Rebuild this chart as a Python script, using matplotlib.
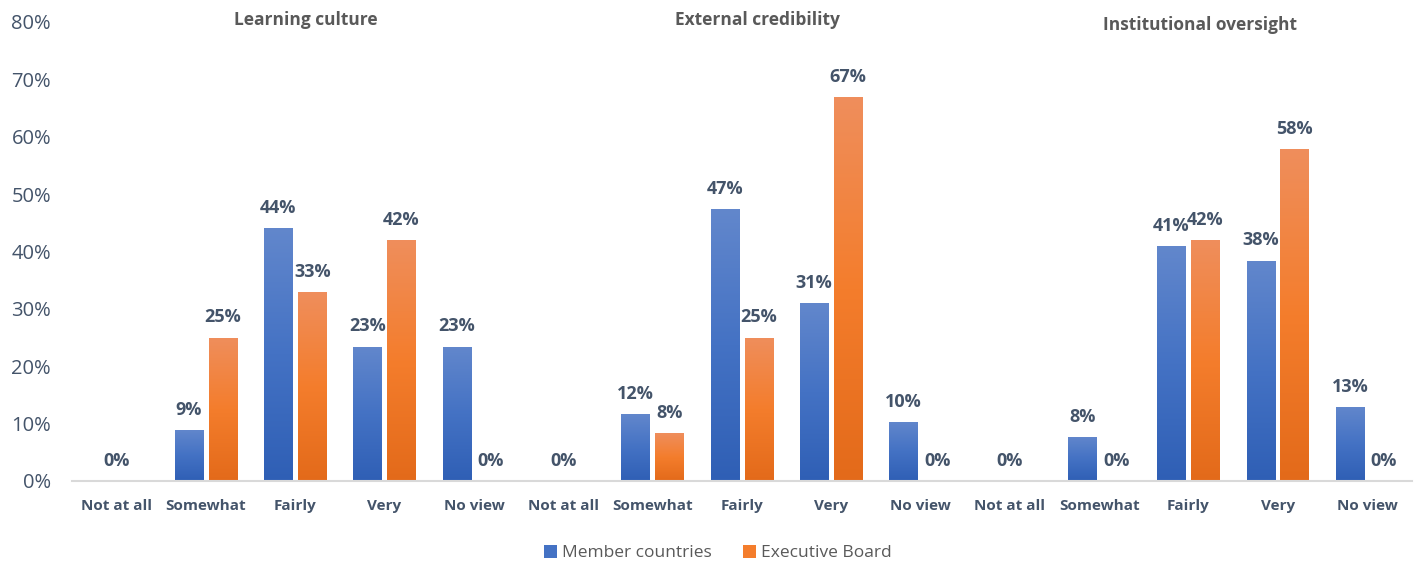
#!/usr/bin/env python3
"""
Survey chart: perceived contribution by group (Learning culture,
External credibility, Institutional oversight), Member countries vs
Executive Board. Grouped bars with a vertical gradient fill.
"""

import numpy as np
import matplotlib
matplotlib.use("Agg")
import matplotlib.pyplot as plt
from matplotlib.colors import LinearSegmentedColormap
from matplotlib.patches import Patch

# --- data -------------------------------------------------------------
answers = ["Not at all", "Somewhat", "Fairly", "Very", "No view"]
groups = ["Learning culture", "External credibility", "Institutional oversight"]
categories = answers * len(groups)

# values in percent, NaN = no bar / no label
member_countries = [0, 8.9, 44.1, 23.4, 23.4,
                    0, 11.6, 47.4, 31.0, 10.3,
                    0, 7.7, 40.9, 38.4, 12.9]
executive_board = [np.nan, 25.0, 32.9, 42.0, 0,
                   np.nan, 8.3, 25.0, 66.9, 0,
                   np.nan, 0, 42.0, 57.8, 0]

series_names = ["Member countries", "Executive Board"]

# --- style ------------------------------------------------------------
FONT = "Open Sans"
TEXT_DARK = "#44546A"
TEXT_GREY = "#595959"
blue_cmap = LinearSegmentedColormap.from_list(
    "blue_grad", ["#2F5FB5", "#4472C4", "#6287CC"])
orange_cmap = LinearSegmentedColormap.from_list(
    "orange_grad", ["#E36A1A", "#F47D2C", "#EF8E5C"])


def gradient_fill(ax, bars, cmap):
    """Paint each bar with a vertical gradient clipped to the bar."""
    grad = np.linspace(0, 1, 256).reshape(-1, 1)
    for bar in bars:
        x, y = bar.get_xy()
        w, h = bar.get_width(), bar.get_height()
        if not np.isfinite(h) or h <= 0:
            continue
        im = ax.imshow(grad, extent=[x, x + w, y, y + h], origin="lower",
                       cmap=cmap, aspect="auto", zorder=bar.get_zorder() + 0.1)
        im.set_clip_path(bar)


def plot_chart():
    fig = plt.figure(figsize=(14.16, 5.64), dpi=100)
    ax = fig.add_axes([0.0508, 0.1472, 0.9462, 0.8138])

    x = np.arange(len(categories))
    width = 0.32
    offset = 0.19

    member = np.array(member_countries, dtype=float)
    board = np.array(executive_board, dtype=float)

    bars_m = ax.bar(x - offset, member, width, color="#4472C4", zorder=2)
    bars_b = ax.bar(x + offset, board, width, color="#F47D2C", zorder=2)
    gradient_fill(ax, bars_m, blue_cmap)
    gradient_fill(ax, bars_b, orange_cmap)

    # data labels
    label_kw = dict(textcoords="offset points", ha="center", va="baseline",
                    fontsize=13, fontweight="bold", color=TEXT_DARK,
                    family=FONT)
    for i in range(len(categories)):
        if np.isnan(board[i]):
            # only one value -> label centred on the category
            ax.annotate(f"{member[i]:.0f}%", (x[i], member[i]),
                        xytext=(0, 11), **label_kw)
            continue
        ax.annotate(f"{member[i]:.0f}%", (x[i] - offset, member[i]),
                    xytext=(0, 11), **label_kw)
        ax.annotate(f"{board[i]:.0f}%", (x[i] + offset, board[i]),
                    xytext=(0, 11), **label_kw)

    # group titles (placed like free text boxes above the groups)
    title_pos = [(2.12, 79.5), (7.17, 79.5), (12.13, 78.6)]
    for name, (tx, ty) in zip(groups, title_pos):
        ax.text(tx, ty, name, ha="center", va="baseline", fontsize=12.5,
                fontweight="bold", color=TEXT_GREY, family=FONT, clip_on=False)

    # axes
    ax.set_xlim(-0.5, len(categories) - 0.5)
    ax.set_ylim(0, 80)
    ax.set_yticks(np.arange(0, 81, 10))
    ax.set_yticklabels([f"{v}%" for v in range(0, 81, 10)],
                       fontsize=14.5, color=TEXT_DARK, family=FONT)
    ax.set_xticks(x)
    ax.set_xticklabels(categories, fontsize=11, fontweight="bold",
                       color=TEXT_DARK, family=FONT)
    ax.tick_params(axis="both", length=0)
    ax.tick_params(axis="y", pad=15)
    ax.tick_params(axis="x", pad=13)
    for side in ["left", "right", "top"]:
        ax.spines[side].set_visible(False)
    ax.spines["bottom"].set_color("#D9D9D9")
    ax.spines["bottom"].set_linewidth(1.5)

    # legend
    handles = [Patch(facecolor="#4472C4"), Patch(facecolor="#F47D2C")]
    leg = fig.legend(handles, series_names, loc="center",
                     bbox_to_anchor=(0.507, 0.019), ncol=2, frameon=False,
                     handlelength=0.75, handleheight=0.75, handletextpad=0.3,
                     columnspacing=1.8,
                     prop={"family": FONT, "size": 12.5})
    for t in leg.get_texts():
        t.set_color(TEXT_GREY)

    fig.savefig("out.png", dpi=100)


if __name__ == "__main__":
    plot_chart()
